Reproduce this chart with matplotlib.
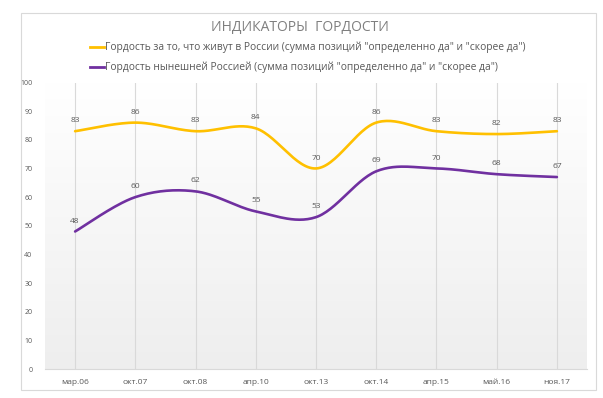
import numpy as np
import matplotlib
matplotlib.use("Agg")
import matplotlib.pyplot as plt
from matplotlib.patches import Rectangle

categories = ["мар.06", "окт.07", "окт.08", "апр.10", "окт.13", "окт.14", "апр.15", "май.16", "ноя.17"]
live_in_russia = [83, 86, 83, 84, 70, 86, 83, 82, 83]
current_russia = [48, 60, 62, 55, 53, 69, 70, 68, 67]
series_names = [
    'Гордость за то, что живут в России (сумма позиций "определенно да" и "скорее да")',
    'Гордость нынешней Россией (сумма позиций "определенно да" и "скорее да")',
]
title = "ИНДИКАТОРЫ  ГОРДОСТИ"
colors = ["#FFC000", "#7030A0"]

plt.rcParams['font.family'] = ['Open Sans', 'DejaVu Sans']

W, H = 603, 398
fig = plt.figure(figsize=(W / 100, H / 100), dpi=100)
fig.patch.set_facecolor("white")

# outer frame
fig.add_artist(Rectangle((21 / W, 1 - 390 / H), (596 - 21) / W, (390 - 13) / H,
                         transform=fig.transFigure, fill=False, edgecolor="#d9d9d9", lw=0.8))

left, right, bottom, top = 45, 587, 369, 82.5
ax = fig.add_axes([left / W, 1 - bottom / H, (right - left) / W, (bottom - top) / H])

n = len(categories)
x = np.arange(n)
ax.set_xlim(-0.5, n - 0.5)
ax.set_ylim(0, 100)

# gradient background
grad = np.linspace(1.0, 0.0, 256).reshape(-1, 1)
ax.imshow(grad, extent=[-0.5, n - 0.5, 0, 100], aspect="auto", origin="lower",
          cmap=matplotlib.colors.LinearSegmentedColormap.from_list("g", ["#ffffff", "#eeeeee"]),
          vmin=0, vmax=1, zorder=0)

for xi in x:
    ax.axvline(xi, color="#d9d9d9", lw=0.8, zorder=1)


def smooth(xs, ys, steps=30):
    xs = np.asarray(xs, float)
    ys = np.asarray(ys, float)
    px = np.concatenate([[xs[0]], xs, [xs[-1]]])
    py = np.concatenate([[ys[0]], ys, [ys[-1]]])
    ox, oy = [], []
    for i in range(1, len(px) - 2):
        p0 = np.array([px[i - 1], py[i - 1]])
        p1 = np.array([px[i], py[i]])
        p2 = np.array([px[i + 1], py[i + 1]])
        p3 = np.array([px[i + 2], py[i + 2]])
        c1 = p1 + (p2 - p0) / 6
        c2 = p2 - (p3 - p1) / 6
        t = np.linspace(0, 1, steps)[:, None]
        b = ((1 - t) ** 3) * p1 + 3 * ((1 - t) ** 2) * t * c1 + 3 * (1 - t) * t ** 2 * c2 + t ** 3 * p2
        ox.extend(b[:, 0])
        oy.extend(b[:, 1])
    return ox, oy


for vals, col in [(live_in_russia, colors[0]), (current_russia, colors[1])]:
    sx, sy = smooth(x, vals)
    ax.plot(sx, sy, color=col, lw=1.9, solid_capstyle="round", zorder=3)
    for xi, v in zip(x, vals):
        ax.annotate(str(v), (xi, v), xytext=(0, 5), textcoords="offset points",
                    ha="center", va="bottom", fontsize=6, color="#595959", zorder=4)

ax.set_xticks(x)
ax.set_xticklabels(categories, fontsize=6, color="#595959")
ax.set_yticks(np.arange(0, 101, 10))
ax.set_yticklabels([str(v) for v in range(0, 101, 10)], fontsize=5, color="#595959")
ax.tick_params(length=0, pad=7)
ax.tick_params(axis="y", pad=9)
for s in ["top", "right", "left"]:
    ax.spines[s].set_visible(False)
ax.spines["bottom"].set_color("#d9d9d9")
ax.spines["bottom"].set_linewidth(0.8)

fig.text(300 / W, 1 - 27 / H, title, ha="center", va="center", fontsize=10, color="#7f7f7f")

for i, (name, col) in enumerate(zip(series_names, colors)):
    yy = 1 - (47 + 20 * i) / H
    fig.add_artist(matplotlib.lines.Line2D([90 / W, 104 / W], [yy, yy], color=col, lw=2,
                                           transform=fig.transFigure))
    fig.text(105 / W, yy, name, ha="left", va="center", fontsize=7.4, color="#595959")

fig.savefig("out.png", dpi=100)
